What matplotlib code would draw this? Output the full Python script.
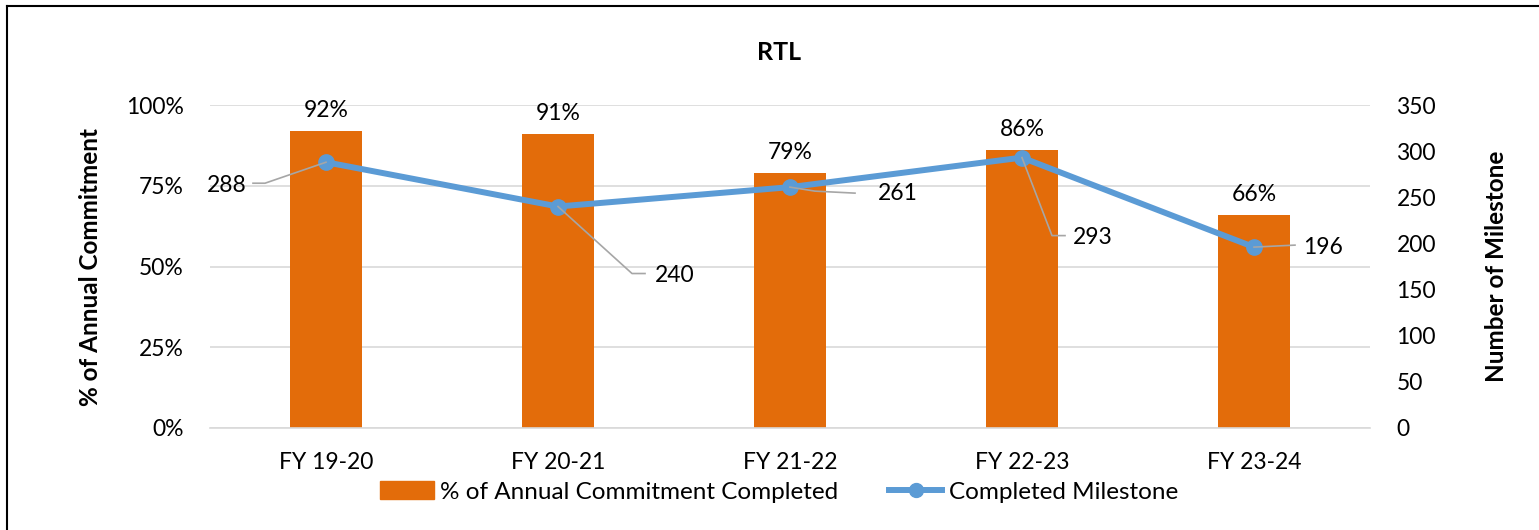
import numpy as np
import matplotlib
matplotlib.use('Agg')
import matplotlib.pyplot as plt
from matplotlib.lines import Line2D
from matplotlib.ticker import PercentFormatter

plt.rcParams['font.family'] = ['Lato', 'DejaVu Sans']

years = ['FY 19-20', 'FY 20-21', 'FY 21-22', 'FY 22-23', 'FY 23-24']
pct_done = [92, 91, 79, 86, 66]
milestones = [288, 240, 261, 293, 196]

# leader line / label offsets in pixels (elbow, end, text), y up
leaders = [
    [(-61, -21), (-73, -21), (-79, -23, 'right')],
    [(74, -67), (87, -67), (97, -69, 'left')],
    [(25, -4), (65, -6), (88, -6, 'left')],
    [(30, -78), (43, -78), (51, -80, 'left')],
    [(20, 1), (41, 2), (49, 0, 'left')],
]

orange = '#E36C0A'
blue = '#5B9BD5'
W, H = 1539, 530
fs = 16.5

fig = plt.figure(figsize=(W / 100, H / 100), dpi=100)
ax = fig.add_axes([210 / W, (H - 428) / H, 1160 / W, 323 / H])
ax2 = ax.twinx()

x = np.arange(len(years))
ax.bar(x, pct_done, width=0.31, color=orange, zorder=2)
for i, v in enumerate(pct_done):
    ax.annotate(f'{v}%', (i, v), xytext=(0, 7), textcoords='offset points',
                ha='center', va='bottom', fontsize=fs)

ax.set_xlim(-0.5, len(years) - 0.5)
ax.set_ylim(0, 100)
ax.set_yticks([0, 25, 50, 75, 100])
ax.yaxis.set_major_formatter(PercentFormatter(decimals=0))
ax.grid(axis='y', color='#D9D9D9', linewidth=1.2, zorder=0)
ax.set_axisbelow(True)
ax.set_xticks(x)
ax.set_xticklabels(years)
ax.tick_params(axis='both', length=0, labelsize=fs)
ax.tick_params(axis='y', pad=19)
ax.tick_params(axis='x', pad=17)
for s in ax.spines.values():
    s.set_visible(False)
ax.spines['bottom'].set_visible(True)
ax.spines['bottom'].set_color('#D9D9D9')
ax.spines['bottom'].set_linewidth(1.2)

ax2.plot(x, milestones, color=blue, linewidth=4.3, marker='o', markersize=11, zorder=3)
ax2.set_ylim(0, 350)
ax2.set_yticks(range(0, 351, 50))
ax2.tick_params(axis='y', length=0, labelsize=fs, pad=19)
for s in ax2.spines.values():
    s.set_visible(False)

ax.set_ylabel('% of Annual Commitment', fontsize=17.5, fontweight='bold')
ax.yaxis.set_label_coords(-108 / 1160, 0.5)
ax2.set_ylabel('Number of Milestone', fontsize=17.5, fontweight='bold', rotation=90)
ax2.yaxis.set_label_coords(1 + 115 / 1160, 0.5)

fig.text(779 / W, 1 - 52 / H, 'RTL', ha='center', va='center', fontsize=18, fontweight='bold')

# data labels with leader lines
for i, v in enumerate(milestones):
    px, py = ax2.transData.transform((i, v))
    (ex, ey), (fx, fy), (tx, ty, ha) = leaders[i]
    fig.add_artist(Line2D([px, px + ex, px + fx], [py, py + ey, py + fy],
                          transform=None, color='#A6A6A6', linewidth=1.2, zorder=5))
    fig.text((px + tx) / W, (py + ty) / H, str(v), ha=ha, va='center', fontsize=fs)

handles = [plt.Rectangle((0, 0), 1, 1, color=orange),
           Line2D([0], [0], color=blue, linewidth=4.3, marker='o', markersize=10)]
fig.legend(handles, ['% of Annual Commitment Completed', 'Completed Milestone'],
           loc='center', bbox_to_anchor=(779 / W, 1 - 492 / H), ncol=2, frameon=False,
           fontsize=17.5, handlelength=2.2, handletextpad=0.25, columnspacing=2.1)

# chart border (left and top visible)
fig.add_artist(Line2D([7 / W, 7 / W], [0, 1 - 6 / H], transform=fig.transFigure, color='black', linewidth=1.5))
fig.add_artist(Line2D([7 / W, 1], [1 - 6 / H, 1 - 6 / H], transform=fig.transFigure, color='black', linewidth=1.5))

fig.savefig('out.png', dpi=100)
